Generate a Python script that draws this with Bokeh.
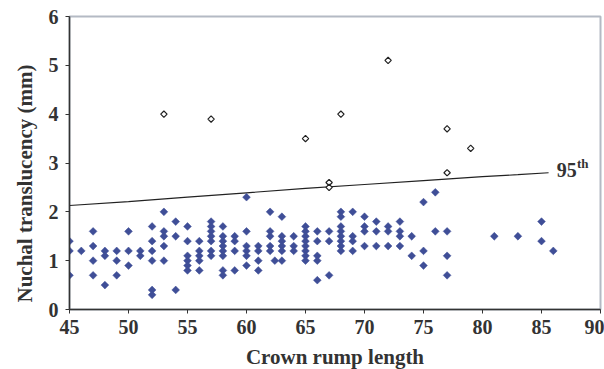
import math
from bokeh.plotting import figure
from bokeh.models import Range1d, Label, FixedTicker, Title
from bokeh.embed import file_html
from bokeh.resources import INLINE

# Normal cases (filled diamonds): crown rump length, nuchal translucency (mm)
normal_crl = [45, 45, 45, 46, 47, 47, 47, 47, 48, 48, 48, 49, 49, 49, 50, 50, 50, 51, 51,
              52, 52, 52, 52, 52, 52, 53, 53, 53, 53, 53, 54, 54, 54,
              55, 55, 55, 55, 55, 55, 56, 56, 56, 56, 56,
              57, 57, 57, 57, 57, 57, 57, 58, 58, 58, 58, 58, 58, 58, 58,
              59, 59, 59, 59, 60, 60, 60, 60, 60, 60, 61, 61, 61, 61,
              62, 62, 62, 62, 62, 62.4, 63, 63, 63, 63, 63, 63, 64, 64, 64,
              65, 65, 65, 65, 65, 65, 65, 65, 66, 66, 66, 66, 66, 67, 67, 67,
              68, 68, 68, 68, 68, 68, 68, 68, 69, 69, 69, 69, 70, 70, 70, 70,
              71, 71, 71, 72, 72, 72, 73, 73, 73, 73, 74, 74, 75, 75, 75, 76, 76,
              77, 77, 77, 81, 83, 85, 85, 86]
normal_nt = [1.4, 1.2, 0.7, 1.2, 1.6, 1.3, 1.0, 0.7, 1.2, 1.1, 0.5, 1.2, 1.0, 0.7, 1.6, 1.2, 0.9, 1.2, 1.1,
             1.7, 1.4, 1.2, 1.0, 0.4, 0.3, 2.0, 1.6, 1.5, 1.3, 1.0, 1.8, 1.5, 0.4,
             1.7, 1.4, 1.1, 1.0, 0.9, 0.8, 1.4, 1.2, 1.1, 1.0, 0.8,
             1.8, 1.7, 1.6, 1.5, 1.4, 1.2, 1.1, 1.7, 1.5, 1.4, 1.3, 1.2, 1.1, 0.8, 0.7,
             1.5, 1.4, 1.2, 0.8, 2.3, 1.6, 1.3, 1.2, 1.1, 0.9, 1.3, 1.2, 1.0, 0.8,
             2.0, 1.6, 1.5, 1.3, 1.2, 1.0, 1.9, 1.5, 1.4, 1.3, 1.2, 1.0, 1.5, 1.3, 1.2,
             1.7, 1.6, 1.5, 1.4, 1.3, 1.2, 1.1, 1.0, 1.6, 1.4, 1.1, 1.0, 0.6, 1.6, 1.4, 0.7,
             2.0, 1.9, 1.7, 1.6, 1.5, 1.4, 1.3, 1.2, 2.0, 1.5, 1.4, 1.2, 1.9, 1.7, 1.6, 1.3,
             1.8, 1.6, 1.3, 1.7, 1.6, 1.3, 1.8, 1.6, 1.5, 1.3, 1.5, 1.1, 2.2, 1.2, 0.9, 2.4, 1.6,
             1.6, 1.1, 0.7, 1.5, 1.5, 1.8, 1.4, 1.2]

# Abnormal cases (open diamonds)
abnormal_crl = [53, 57, 65, 67, 67, 68, 72, 77, 77, 79]
abnormal_nt = [4.0, 3.9, 3.5, 2.6, 2.5, 4.0, 5.1, 3.7, 2.8, 3.3]

# 95th centile curve
centile_crl = [45, 50, 55, 60, 65, 70, 75, 80, 83, 85.6]
centile_nt = [2.13, 2.21, 2.30, 2.39, 2.48, 2.56, 2.64, 2.72, 2.76, 2.80]

x_ticks = [45, 50, 55, 60, 65, 70, 75, 80, 85, 90]
y_ticks = [0, 1, 2, 3, 4, 5, 6]

TXT = "#333333"
FONT = "Liberation Serif"

p = figure(frame_width=531, frame_height=293, output_backend="svg", toolbar_location=None,
           x_range=Range1d(45, 90), y_range=Range1d(0, 6),
           min_border_left=69, min_border_right=4, min_border_top=16, min_border_bottom=30)
p.background_fill_color = "white"
p.border_fill_color = "white"
p.outline_line_color = "#b4bac4"
p.outline_line_width = 2
p.xgrid.visible = False
p.ygrid.visible = False

for ax, ticks in ((p.xaxis, x_ticks), (p.yaxis, y_ticks)):
    ax.ticker = FixedTicker(ticks=ticks)
    ax.axis_line_color = TXT
    ax.axis_line_width = 1.5
    ax.major_tick_line_color = TXT
    ax.major_tick_out = 4
    ax.major_tick_in = 0
    ax.minor_tick_line_color = None
    ax.major_label_text_font = FONT
    ax.major_label_text_font_style = "bold"
    ax.major_label_text_font_size = "20px"
    ax.major_label_text_color = TXT
    ax.axis_label_text_font = FONT
    ax.axis_label_text_font_style = "bold"
    ax.axis_label_text_font_size = "21px"
    ax.axis_label_text_color = TXT
p.xaxis.major_label_standoff = 6
p.yaxis.major_label_standoff = 7
p.xaxis.axis_label = "Crown rump length"
p.xaxis.axis_label_standoff = 8

p.add_layout(Title(text="Nuchal translucency (mm)", align="left", offset=7,
                   text_font=FONT, text_font_style="bold", text_font_size="21px",
                   text_color=TXT, standoff=18), "left")

p.line(centile_crl, centile_nt, line_color="#222222", line_width=1.2)

p.scatter(normal_crl, normal_nt, marker="square", angle=math.pi / 4, size=5.5,
          fill_color="#3f4e97", line_color="#3f4e97", line_width=0.5)
p.scatter(abnormal_crl, abnormal_nt, marker="square", angle=math.pi / 4, size=4.5,
          fill_color="white", line_color="#222222", line_width=1.2)

p.add_layout(Label(x=86.3, y=2.85, text="95", text_font=FONT, text_font_style="bold",
                   text_font_size="20px", text_color=TXT, text_align="left",
                   text_baseline="middle"))
p.add_layout(Label(x=88.0, y=3.0, text="th", text_font=FONT, text_font_style="bold",
                   text_font_size="13px", text_color=TXT, text_align="left",
                   text_baseline="middle"))

open("out.html", "w").write(file_html(p, INLINE))
